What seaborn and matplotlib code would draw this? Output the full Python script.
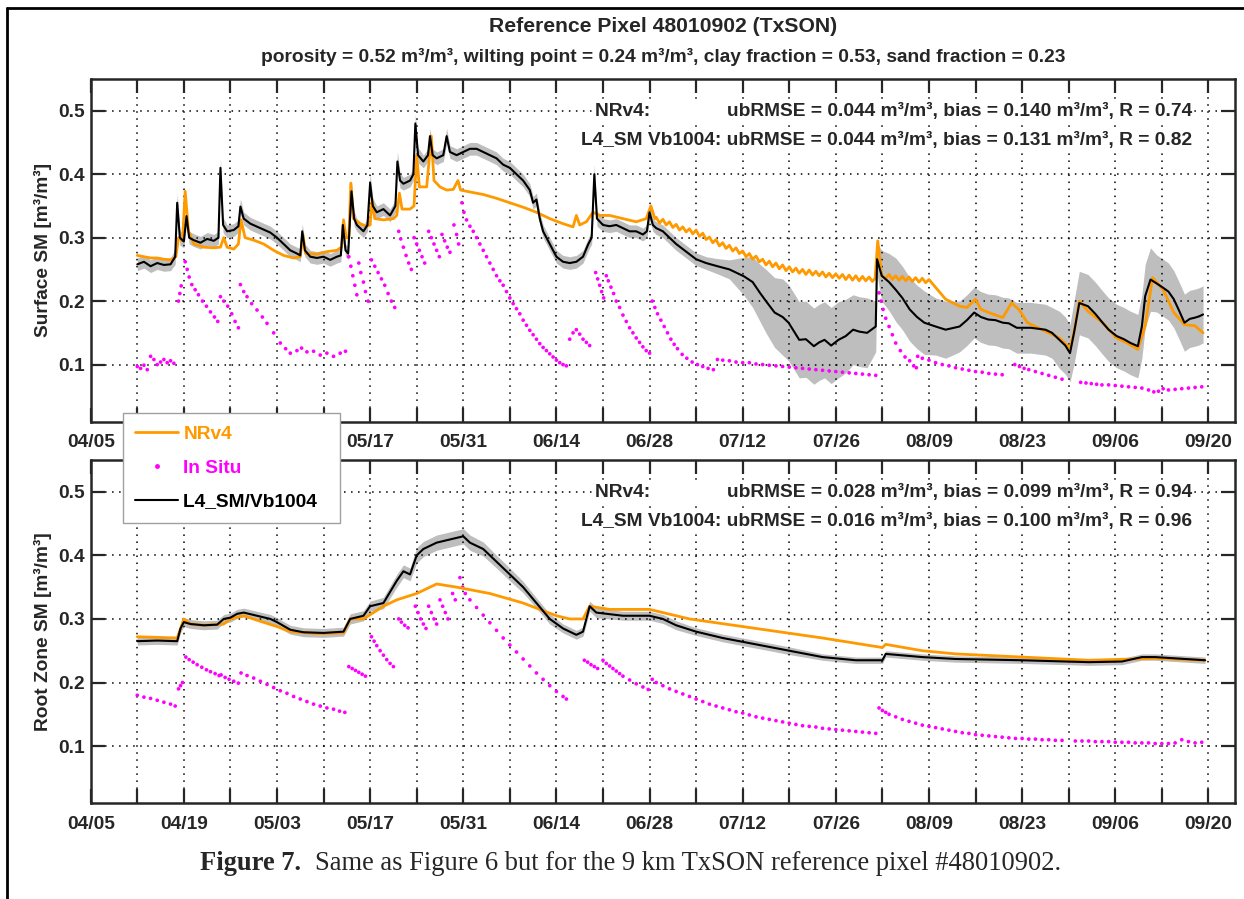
import numpy as np
import pandas as pd
import matplotlib
matplotlib.use("Agg")
import matplotlib.pyplot as plt
from matplotlib.lines import Line2D
import seaborn as sns

# ---------------------------------------------------------------- data
YEAR = 2016
SEASON_START = "04/05"          # day 0 of the day offsets below
SEASON_END = "09/24"

TICK_DATES = ["04/05", "04/12", "04/19", "04/26", "05/03", "05/10", "05/17",
              "05/24", "05/31", "06/07", "06/14", "06/21", "06/28", "07/05",
              "07/12", "07/19", "07/26", "08/02", "08/09", "08/16", "08/23",
              "08/30", "09/06", "09/13", "09/20"]
TICK_LABELS = [d if i % 2 == 0 else "" for i, d in enumerate(TICK_DATES)]
UNDER_LEGEND = ["04/19", "05/03"]     # upper-panel labels hidden by the legend box
Y_TICKS = [0.1, 0.2, 0.3, 0.4, 0.5]

# Surface soil moisture: L4_SM Vb1004 (day, mean, ensemble spread)
SURF_L4 = [
    (7, 0.258, .010), (8, 0.262, .010), (9, 0.255, .010), (10, 0.260, .010), (11, 0.257, .010),
    (12, 0.258, .010), (12.7, 0.270, .012), (13.0, 0.355, .015), (13.4, 0.300, .012), (14.0, 0.294, .010),
    (14.4, 0.334, .012), (14.8, 0.300, .010), (15.5, 0.296, .010), (16.5, 0.292, .010), (17.5, 0.298, .010),
    (18.5, 0.295, .010), (19.2, 0.300, .010), (19.5, 0.410, .015), (19.9, 0.320, .012), (20.5, 0.310, .010),
    (21.5, 0.312, .010), (22.2, 0.318, .010), (22.5, 0.349, .012), (23, 0.330, .010), (24, 0.322, .010),
    (25.5, 0.315, .010), (27, 0.308, .010), (28, 0.300, .010), (29, 0.290, .010), (30, 0.280, .010),
    (31, 0.275, .010), (31.5, 0.272, .010), (31.8, 0.310, .012), (32.2, 0.280, .010), (33, 0.270, .010),
    (34, 0.268, .010), (35, 0.270, .010), (36, 0.265, .010), (37, 0.270, .010), (37.6, 0.272, .010),
    (37.9, 0.320, .012), (38.3, 0.280, .010), (38.7, 0.275, .010), (39.2, 0.373, .015), (39.6, 0.330, .012),
    (40, 0.320, .010), (41, 0.310, .010), (41.6, 0.320, .010), (42.0, 0.386, .015), (42.4, 0.350, .012),
    (43, 0.340, .010), (44, 0.345, .010), (45, 0.335, .010), (45.8, 0.350, .010), (46.1, 0.420, .015),
    (46.5, 0.390, .012), (47, 0.385, .010), (48, 0.390, .010), (48.5, 0.400, .010), (48.8, 0.480, .015),
    (49.2, 0.430, .012), (50, 0.420, .010), (50.7, 0.430, .010), (51, 0.460, .012), (51.4, 0.430, .010),
    (52, 0.425, .010), (53, 0.430, .010), (53.5, 0.460, .012), (54, 0.435, .010), (55, 0.430, .010),
    (56, 0.435, .010), (57, 0.440, .010), (58, 0.440, .010), (59, 0.435, .010), (60, 0.430, .010),
    (61, 0.425, .010), (62, 0.415, .010), (63, 0.410, .010), (64, 0.400, .010), (65, 0.390, .010),
    (66, 0.375, .010), (66.5, 0.355, .010), (67, 0.360, .010), (67.5, 0.330, .010), (68, 0.310, .010),
    (69, 0.290, .010), (70, 0.270, .010), (71, 0.262, .010), (72, 0.260, .010), (73, 0.262, .010),
    (74, 0.270, .010), (74.8, 0.290, .010), (75.3, 0.300, .010), (75.7, 0.400, .015), (76.1, 0.330, .012),
    (77, 0.320, .010), (78, 0.318, .010), (79, 0.320, .010), (80, 0.315, .010), (81, 0.310, .010),
    (82, 0.310, .010), (83, 0.305, .010), (83.6, 0.310, .010), (84, 0.340, .012), (84.5, 0.320, .010),
    (85, 0.315, .010), (86, 0.310, .010), (87, 0.300, .010), (88, 0.290, .010), (89, 0.282, .010),
    (91, 0.266, .010), (92.5, 0.260, .010), (94.2, 0.255, .012), (96, 0.250, .015), (98.2, 0.239, .030),
    (99.5, 0.230, .040), (100.6, 0.213, .045), (101.5, 0.200, .050), (102.8, 0.182, .055), (104, 0.175, .060),
    (104.9, 0.166, .060), (106.5, 0.139, .060), (107.5, 0.140, .060), (108.7, 0.129, .060), (109.5, 0.135, .060),
    (110.3, 0.139, .060), (111.3, 0.130, .060), (112.4, 0.139, .060), (113.5, 0.145, .058), (114.6, 0.155, .055),
    (115.5, 0.152, .055), (116.7, 0.150, .055), (118, 0.160, .040), (118.2, 0.266, .025), (118.9, 0.240, .040),
    (120, 0.230, .045), (121, 0.218, .050), (122, 0.205, .050), (123.1, 0.187, .050), (124.2, 0.175, .050),
    (125.3, 0.166, .050), (127, 0.160, .045), (128.5, 0.155, .045), (130.6, 0.160, .040), (131.7, 0.170, .040),
    (132.8, 0.182, .040), (133.8, 0.175, .040), (134.9, 0.171, .040), (136, 0.170, .040), (137.1, 0.166, .040),
    (138, 0.165, .040), (139.2, 0.158, .040), (141.3, 0.158, .040), (143.5, 0.155, .040), (144.5, 0.150, .040),
    (145.6, 0.139, .045), (146.5, 0.130, .045), (147.2, 0.118, .045), (147.8, 0.150, .050), (148.6, 0.197, .050),
    (149.9, 0.192, .050), (151, 0.180, .050), (152.1, 0.166, .050), (153, 0.155, .050), (154.2, 0.145, .050),
    (155.3, 0.140, .050), (156.3, 0.134, .050), (157.4, 0.129, .050), (158, 0.160, .050), (158.5, 0.208, .050),
    (159.3, 0.234, .050), (160.2, 0.228, .045), (161.2, 0.221, .045), (162, 0.215, .045), (162.8, 0.203, .045),
    (163.6, 0.185, .045), (164.4, 0.166, .045), (165.2, 0.172, .045), (166, 0.174, .045), (166.6, 0.176, .045),
    (167.2, 0.179, .045),
]

# Surface soil moisture: NRv4 (day, value); the long dry-downs carry the day/night wiggle
SURF_NR = [
    (7, 0.272), (8, 0.270), (9, 0.268), (10, 0.268), (11, 0.266), (12, 0.265), (12.8, 0.270), (13.2, 0.300),
    (13.8, 0.295), (14.2, 0.373), (14.7, 0.310), (15.5, 0.290), (17, 0.285), (18.5, 0.284), (19.5, 0.285),
    (20, 0.300), (20.5, 0.285), (21.5, 0.282), (22.2, 0.290), (22.6, 0.328), (23.2, 0.300), (24.5, 0.296),
    (26, 0.290), (27.5, 0.280), (29, 0.272), (30.5, 0.268), (31.5, 0.270), (31.9, 0.305), (32.3, 0.275),
    (34, 0.274), (35.5, 0.278), (37, 0.280), (37.7, 0.285), (38, 0.328), (38.4, 0.300), (38.8, 0.300),
    (39.1, 0.386), (39.5, 0.330), (40.5, 0.322), (41.5, 0.318), (42, 0.320), (42.3, 0.360), (42.7, 0.330),
    (44, 0.328), (45.5, 0.330), (46, 0.335), (46.4, 0.370), (46.8, 0.345), (48, 0.345), (48.6, 0.350),
    (49, 0.430), (49.4, 0.380), (50.5, 0.380), (51.2, 0.460), (51.6, 0.390), (52.5, 0.380), (53.5, 0.375),
    (54.5, 0.376), (55.2, 0.390), (55.6, 0.375), (57, 0.372), (59, 0.368), (61, 0.362), (63, 0.355),
    (65, 0.348), (67, 0.340), (69, 0.330), (71, 0.322), (72.5, 0.317), (73, 0.335), (73.5, 0.320),
    (74.5, 0.325), (75.5, 0.340), (76.5, 0.335), (78, 0.335), (80, 0.330), (82, 0.325), (83.5, 0.330),
    (84.2, 0.350), (84.8, 0.330),
    (85, 0.332), (85.5, 0.323), (86, 0.329), (86.5, 0.320), (87, 0.325), (87.5, 0.316), (88, 0.321),
    (88.5, 0.312), (89, 0.317), (89.5, 0.309), (90, 0.314), (90.5, 0.306), (91, 0.312), (91.5, 0.302),
    (92, 0.307), (92.5, 0.297), (93, 0.301), (93.5, 0.292), (94, 0.297), (94.5, 0.287), (95, 0.292),
    (95.5, 0.283), (96, 0.288), (96.5, 0.279), (97, 0.284), (97.5, 0.275), (98, 0.279), (98.5, 0.270),
    (99, 0.275), (99.5, 0.266), (100, 0.271), (100.5, 0.262), (101, 0.266), (101.5, 0.257), (102, 0.263),
    (102.5, 0.254), (103, 0.260), (103.5, 0.251), (104, 0.257), (104.5, 0.248), (105, 0.254),
    (105.5, 0.246), (106, 0.252), (106.5, 0.244), (107, 0.250), (107.5, 0.242), (108, 0.249),
    (108.5, 0.241), (109, 0.247), (109.5, 0.240), (110, 0.246), (110.5, 0.238), (111, 0.244),
    (111.5, 0.237), (112, 0.243), (112.5, 0.236), (113, 0.242), (113.5, 0.234), (114, 0.241),
    (114.5, 0.233), (115, 0.240), (115.5, 0.232), (116, 0.239), (116.5, 0.232), (117, 0.238),
    (117.5, 0.231), (117.9, 0.236),
    (118.3, 0.295), (118.9, 0.240), (119.5, 0.236), (120, 0.242), (120.5, 0.234), (121, 0.240),
    (121.5, 0.233), (122, 0.239), (122.5, 0.232), (123, 0.238), (123.5, 0.231), (124, 0.237),
    (124.5, 0.230), (125, 0.236), (125.5, 0.229), (126, 0.234), (126.4, 0.229),
    (127.5, 0.215), (128.5, 0.203), (130.6, 0.192), (131.7, 0.190), (133, 0.203), (133.8, 0.187),
    (135.5, 0.180), (137.1, 0.174), (138.4, 0.197), (139.5, 0.187), (140.8, 0.166), (142.4, 0.158),
    (144, 0.150), (145.6, 0.142), (147.2, 0.126), (147.8, 0.150), (148.6, 0.200), (149.9, 0.184),
    (152.1, 0.166), (154.2, 0.142), (155.8, 0.134), (157.4, 0.124), (158.5, 0.161), (159.6, 0.237),
    (161.2, 0.218), (162.8, 0.182), (164.4, 0.163), (166, 0.161), (167.2, 0.150),
]

# Surface soil moisture: in situ probes (day, value)
SURF_INSITU = [
    (7, .097), (7.5, .094), (8, .099), (8.5, .092), (9, .113), (9.5, .108), (10, .100), (10.5, .104),
    (11, .108), (11.5, .103), (12, .106), (12.5, .102),
    (13.2, .200), (13.4, .212), (13.6, .224), (14.2, .262), (14.5, .250), (14.8, .238), (15.2, .226),
    (15.7, .218), (16.2, .210), (16.8, .200), (17.4, .192), (18, .183), (18.6, .175), (19.1, .168),
    (19.5, .207), (20, .200), (20.6, .192), (21.2, .180), (21.7, .168), (22.2, .158),
    (22.5, .226), (23, .215), (23.5, .207), (24.2, .196), (25, .186), (25.8, .175), (26.5, .165),
    (27.5, .150), (28.5, .134), (29.3, .125), (30, .118), (31, .122), (31.7, .126), (32.5, .120),
    (33.5, .121), (34.5, .115), (35.5, .118), (36.5, .113), (37.5, .118), (38.3, .121),
    (38.8, .270), (39.1, .255), (39.4, .240), (39.7, .225), (40, .210),
    (40.3, .260), (40.6, .245), (41, .230), (41.3, .215), (41.7, .200),
    (42.2, .265), (42.7, .255), (43.2, .245), (43.7, .235), (44.2, .225), (44.7, .212), (45.2, .200), (45.7, .190),
    (46.3, .310), (46.6, .298), (47, .285), (47.4, .272), (47.8, .260), (48.2, .250),
    (48.6, .300), (49, .290), (49.4, .280), (49.8, .270), (50.2, .260),
    (50.8, .310), (51.2, .300), (51.6, .290), (52, .280), (52.4, .270),
    (52.8, .305), (53.2, .295), (53.6, .285), (54, .277),
    (54.6, .320), (55, .305), (55.3, .290),
    (55.8, .355), (56.1, .340), (56.5, .328), (57, .318), (57.5, .310), (58, .300), (58.5, .290),
    (59, .280), (59.5, .270), (60, .260), (60.5, .250), (61, .240), (61.5, .232), (62, .225),
    (62.5, .215), (63, .205), (63.5, .196), (64, .188), (64.5, .180), (65, .170), (65.5, .162),
    (66, .154), (66.5, .147), (67, .140), (67.5, .133), (68, .127), (68.5, .122), (69, .117),
    (69.5, .112), (70, .107), (70.5, .103), (71, .100), (71.5, .098),
    (72, .140), (72.5, .150), (73, .155), (73.5, .148), (74, .140), (74.5, .135), (75, .130),
    (75.9, .245), (76.2, .235), (76.5, .225), (76.8, .215), (77.1, .205),
    (77.5, .240), (77.8, .232), (78.2, .222), (78.6, .212), (79, .200), (79.5, .190), (80, .178),
    (80.5, .168), (81, .158), (81.5, .150), (82, .142), (82.5, .135), (83, .128), (83.5, .122), (84, .118),
    (84.4, .200), (84.8, .190), (85.2, .180), (85.7, .170), (86.2, .160), (86.7, .150), (87.2, .140),
    (87.7, .132), (88.2, .125), (88.9, .116), (89.6, .110), (90.4, .104), (91.2, .100), (92, .097),
    (92.8, .094), (93.6, .092),
    (94.2, .108), (95, .107), (96, .106), (97, .104), (98, .103), (99, .103), (100, .101), (101, .100),
    (102, .099), (103, .098), (104, .097), (105, .096), (106, .095), (107, .094), (108, .093),
    (109, .092), (110, .091), (111, .090), (112, .089), (113, .088), (114, .087), (115, .086),
    (116, .085), (117, .084), (118, .083),
    (118.5, .213), (118.8, .200), (119.1, .187), (119.5, .173), (120, .160), (120.5, .147), (121, .134),
    (121.7, .122), (122.4, .112), (123.1, .106), (123.7, .098), (124.1, .095),
    (124.3, .113), (125, .110), (126, .107), (127, .103), (128, .100), (129, .098), (130, .095),
    (131, .093), (132, .091), (133, .089), (134, .088), (135, .086), (136, .085), (137, .084),
    (138.9, .100), (139.6, .097), (140.3, .094), (141, .092), (142, .089), (143, .086), (144, .083),
    (145, .080), (146, .077),
    (148.8, .072), (149.6, .071), (150.4, .070), (151.2, .069), (152, .068), (153, .068), (154, .067),
    (155, .066), (156, .065), (157, .064), (158, .063), (159, .060), (159.8, .057), (160.5, .058),
    (161.2, .062), (162, .060), (163, .061), (164, .062), (165, .063), (166, .064), (167, .065),
]

# Root-zone soil moisture: L4_SM Vb1004 (day, mean, ensemble spread)
ROOT_L4 = [
    (7, 0.265, .006), (10, 0.266, .006), (13, 0.265, .006), (13.5, 0.285, .007), (14, 0.295, .007),
    (15, 0.292, .007), (17, 0.290, .007), (19, 0.291, .007), (20, 0.300, .007), (21, 0.302, .007),
    (22, 0.308, .007), (23, 0.310, .007), (25, 0.305, .007), (27, 0.300, .007), (28, 0.295, .007),
    (30, 0.283, .007), (32, 0.279, .007), (35, 0.278, .007), (38, 0.280, .007), (39, 0.300, .008),
    (41, 0.305, .008), (42, 0.320, .008), (44, 0.325, .009), (46, 0.360, .010), (47, 0.375, .010),
    (48, 0.370, .010), (49, 0.400, .012), (50, 0.410, .012), (52, 0.420, .012), (54, 0.425, .012),
    (56, 0.430, .012), (57, 0.420, .012), (59, 0.410, .011), (61, 0.390, .010), (63, 0.370, .010),
    (65, 0.350, .009), (67, 0.325, .008), (69, 0.300, .008), (71, 0.285, .007), (73, 0.275, .007),
    (74, 0.280, .007), (75, 0.320, .008), (76, 0.310, .008), (80, 0.305, .007), (84, 0.305, .007),
    (86, 0.300, .007), (88, 0.290, .007), (91, 0.280, .006), (95, 0.270, .006), (100, 0.260, .006),
    (105, 0.250, .006), (110, 0.240, .005), (115, 0.235, .005), (119, 0.235, .005), (119.5, 0.245, .005),
    (125, 0.240, .005), (130, 0.237, .005), (140, 0.235, .005), (150, 0.232, .005), (155, 0.233, .005),
    (158, 0.240, .005), (160, 0.240, .005), (167.5, 0.235, .005),
]

# Root-zone soil moisture: NRv4 (day, value)
ROOT_NR = [
    (7, 0.272), (10, 0.271), (13, 0.270), (14, 0.300), (15, 0.292), (17, 0.290), (20, 0.292),
    (21, 0.300), (23, 0.305), (25, 0.298), (28, 0.288), (30, 0.280), (34, 0.277), (38, 0.278),
    (39, 0.300), (41, 0.300), (44, 0.320), (46, 0.330), (49, 0.340), (51, 0.350), (52, 0.355),
    (55, 0.350), (60, 0.340), (65, 0.325), (70, 0.305), (72, 0.300), (74, 0.300), (75, 0.320),
    (78, 0.315), (84, 0.315), (90, 0.300), (100, 0.285), (110, 0.270), (119, 0.255), (119.5, 0.260),
    (125, 0.250), (130, 0.245), (140, 0.240), (150, 0.235), (160, 0.238), (167.5, 0.235),
]

# Root-zone soil moisture: in situ probes (day, value)
ROOT_INSITU = [
    (7, .180), (8, .177), (9, .175), (10, .172), (11, .169), (12, .166), (12.7, .163),
    (13.2, .190), (13.5, .195), (13.8, .200),
    (14.3, .240), (14.8, .236), (15.4, .232), (16, .228), (16.7, .224), (17.4, .220), (18, .217),
    (18.7, .214), (19.3, .211), (19.6, .212), (20.2, .208), (20.8, .205), (21.5, .202), (22.2, .199),
    (22.6, .215), (23.5, .211), (24.5, .207), (25.5, .202), (26.5, .197), (27.5, .192), (28.5, .187),
    (29.5, .183), (30.5, .178), (31.5, .174), (32.5, .170), (33.5, .166), (34.5, .163), (35.5, .160),
    (36.5, .158), (37.4, .155), (38.2, .153),
    (38.8, .225), (39.3, .222), (39.8, .219), (40.3, .216), (40.8, .213), (41.3, .210),
    (42.2, .272), (42.6, .265), (43, .258), (43.5, .250), (44, .243), (44.5, .236), (45, .230), (45.5, .225),
    (46.3, .300), (46.7, .295), (47.2, .290), (47.7, .286),
    (48.8, .320), (49.2, .310), (49.6, .300), (50, .292), (50.4, .285),
    (50.8, .320), (51.2, .310), (51.6, .300), (52, .292),
    (52.5, .330), (52.9, .320), (53.3, .310), (53.7, .300), (54.4, .340), (54.8, .330),
    (55.5, .365), (55.9, .350), (56.3, .340), (57, .330), (58, .318), (59, .306), (60, .294), (61, .282),
    (62, .270), (63, .259), (64, .248), (65, .237), (66, .226), (67, .215), (68, .205), (69, .195),
    (70, .186), (71, .178), (71.5, .174),
    (74.2, .235), (74.7, .232), (75.2, .228), (75.7, .225), (76.2, .222),
    (77, .235), (77.5, .230), (78, .226), (78.5, .222), (79, .218), (79.5, .214), (80, .210),
    (81, .204), (82, .198), (83, .193), (83.8, .189),
    (84.4, .205), (85, .200), (86, .195), (87, .190), (88, .186), (89, .182), (90, .178), (91, .174),
    (92, .170), (93, .166), (94, .163), (95, .160), (96, .157), (97, .154), (98, .152), (99, .149),
    (100, .146), (101, .144), (102, .142), (103, .140), (104, .138), (105, .136), (106, .134),
    (107, .132), (108, .131), (109, .130), (110, .128), (111, .127), (112, .126), (113, .125),
    (114, .124), (115, .123), (116, .122), (117, .121), (118, .120),
    (118.5, .160), (119, .156), (119.5, .153), (120, .150), (121, .146), (122, .142), (123, .139),
    (124, .136), (125, .133), (126, .131), (127, .129), (128, .127), (129, .125), (130, .123),
    (131, .121), (132, .120), (133, .118), (134, .117), (135, .116), (136, .115), (137, .114),
    (138, .113), (139, .112), (140, .112), (141, .111), (142, .111), (143, .110), (144, .110),
    (145, .109), (146, .109), (148, .108), (149, .108), (150, .108), (151, .107), (152, .107),
    (153, .107), (154, .106), (155, .106), (156, .106), (157, .105), (158, .105), (159, .105),
    (160, .104), (161, .104), (162, .104), (163, .105), (164, .110), (165, .107), (166, .105), (167, .106),
]

SURF_STATS = ("ubRMSE = 0.044 m³/m³, bias = 0.140 m³/m³, R = 0.74",
              "ubRMSE = 0.044 m³/m³, bias = 0.131 m³/m³, R = 0.82")
ROOT_STATS = ("ubRMSE = 0.028 m³/m³, bias = 0.099 m³/m³, R = 0.94",
              "ubRMSE = 0.016 m³/m³, bias = 0.100 m³/m³, R = 0.96")

TITLE = "Reference Pixel 48010902 (TxSON)"
SUBTITLE = ("porosity = 0.52 m³/m³, wilting point = 0.24 m³/m³, "
            "clay fraction = 0.53, sand fraction = 0.23")
CAPTION_HEAD = "Figure 7."
CAPTION_BODY = "Same as Figure 6 but for the 9 km TxSON reference pixel #48010902."

# ---------------------------------------------------------------- style
ORANGE = "#FF9900"
MAGENTA = "#FF00FF"
SHADE = "#BEBEBE"
FONT = "Liberation Sans"
FS = 13.8

sns.set_style("ticks")
plt.rcParams["font.family"] = [FONT, "DejaVu Sans"]
plt.rcParams["font.weight"] = "bold"

t0 = pd.Timestamp(f"{YEAR}-04-05")


def to_dates(days):
    return t0 + pd.to_timedelta(np.asarray(days, dtype=float), unit="D")


def md(s):
    return pd.Timestamp(f"{YEAR}-{s.replace('/', '-')}")


def frame(series):
    arr = np.array(series, dtype=float)
    df = pd.DataFrame({"date": to_dates(arr[:, 0]), "sm": arr[:, 1]})
    if arr.shape[1] > 2:
        df["spread"] = arr[:, 2]
    return df


fig = plt.figure(figsize=(12.44, 8.99), dpi=100)
W, H = 1244, 899
ax_top = fig.add_axes([90.7 / W, 1 - 421.7 / H, 1144.3 / W, 342.7 / H])
ax_bot = fig.add_axes([90.7 / W, 1 - 803.3 / H, 1144.3 / W, 343.3 / H])

dot_grid = dict(color="black", linewidth=1.1, linestyle=(0, (1.0, 3.6)))


def draw_panel(ax, l4, nr, insitu, stats, ylabel, hidden=()):
    d_l4, d_nr, d_is = frame(l4), frame(nr), frame(insitu)
    ax.fill_between(d_l4["date"], d_l4["sm"] - d_l4["spread"], d_l4["sm"] + d_l4["spread"],
                    color=SHADE, linewidth=0, zorder=1)
    sns.lineplot(data=d_nr, x="date", y="sm", ax=ax, color=ORANGE, linewidth=2.0,
                 estimator=None, sort=False, zorder=3)
    sns.scatterplot(data=d_is, x="date", y="sm", ax=ax, color=MAGENTA, s=7,
                    edgecolor="none", linewidth=0, zorder=2)
    sns.lineplot(data=d_l4, x="date", y="sm", ax=ax, color="black", linewidth=1.5,
                 estimator=None, sort=False, zorder=4)

    ax.set_xlim(md(SEASON_START), md(SEASON_END))
    ax.set_ylim(0.01, 0.55)
    ax.set_xticks([md(d) for d in TICK_DATES])
    ax.set_xticklabels(["" if lab in hidden else lab for lab in TICK_LABELS])
    ax.set_yticks(Y_TICKS)
    ax.set_yticklabels([f"{v:.1f}" for v in Y_TICKS])
    ax.set_axisbelow("line")
    ax.grid(True, **dot_grid)
    ax.tick_params(direction="in", top=True, right=True, length=10, width=1.6,
                   labelsize=FS)
    ax.tick_params(axis="x", pad=9)
    ax.tick_params(axis="y", pad=4)
    for lab in ax.get_xticklabels() + ax.get_yticklabels():
        lab.set_fontweight("bold")
    for sp in ax.spines.values():
        sp.set_linewidth(1.8)
        sp.set_visible(True)
    ax.set_xlabel("")
    ax.set_ylabel(ylabel, fontsize=FS, fontweight="bold")
    ax.yaxis.set_label_coords(-0.034, 0.5)

    # statistics block; the white boxes blank the grid behind each row
    tkw = dict(fontsize=FS, fontweight="bold", va="center", zorder=6,
               bbox=dict(facecolor="white", edgecolor="none", pad=1.5))
    ax.text(md("06/19") + pd.Timedelta(hours=19), 0.499, "NRv4:" + " " * 15, ha="left", **tkw)
    ax.text(md("09/17") + pd.Timedelta(hours=13), 0.499, stats[0], ha="right", **tkw)
    ax.text(md("09/17") + pd.Timedelta(hours=13), 0.4535, "L4_SM Vb1004: " + stats[1],
            ha="right", **tkw)


draw_panel(ax_top, SURF_L4, SURF_NR, SURF_INSITU, SURF_STATS, "Surface SM [m³/m³]",
           hidden=UNDER_LEGEND)
draw_panel(ax_bot, ROOT_L4, ROOT_NR, ROOT_INSITU, ROOT_STATS, "Root Zone SM [m³/m³]")

# titles
fig.text(663 / W, 1 - 27 / H, TITLE, ha="center", va="center", fontsize=15.2, fontweight="bold")
fig.text(663 / W, 1 - 57 / H, SUBTITLE, ha="center", va="center", fontsize=FS, fontweight="bold")

# legend spanning both panels
handles = [Line2D([], [], color=ORANGE, lw=2.0),
           Line2D([], [], color=MAGENTA, lw=0, marker=".", markersize=5),
           Line2D([], [], color="black", lw=1.5)]
leg = fig.legend(handles, ["NRv4", "In Situ", "L4_SM/Vb1004  "], loc="upper left",
                 bbox_to_anchor=(123 / W, 1 - 413 / H), borderaxespad=0,
                 prop={"family": FONT, "weight": "bold", "size": FS},
                 labelcolor=[ORANGE, MAGENTA, "black"], frameon=True, fancybox=False,
                 edgecolor="#A0A0A0", framealpha=1, handlelength=2.2, handletextpad=0.3,
                 labelspacing=0.85, borderpad=0.65)
leg.get_frame().set_linewidth(1.0)
leg.set_zorder(10)

# caption
cap_y = 1 - 870 / H
t_head = fig.text(200 / W, cap_y, CAPTION_HEAD, ha="left", va="baseline",
                  family="Liberation Serif", fontweight="bold", fontsize=19.1)
fig.canvas.draw()
bb = t_head.get_window_extent()
fig.text(bb.x1 / W + 14 / W, cap_y, CAPTION_BODY, ha="left", va="baseline",
         family="Liberation Serif", fontweight="normal", fontsize=19.1)

# page frame (left and top rules)
fig.add_artist(Line2D([7.5 / W, 7.5 / W], [0, 1 - 7.5 / H], color="black", lw=2.0,
                      transform=fig.transFigure))
fig.add_artist(Line2D([7.5 / W, 1], [1 - 7.5 / H, 1 - 7.5 / H], color="black", lw=2.0,
                      transform=fig.transFigure))

fig.savefig("out.png", dpi=100)
